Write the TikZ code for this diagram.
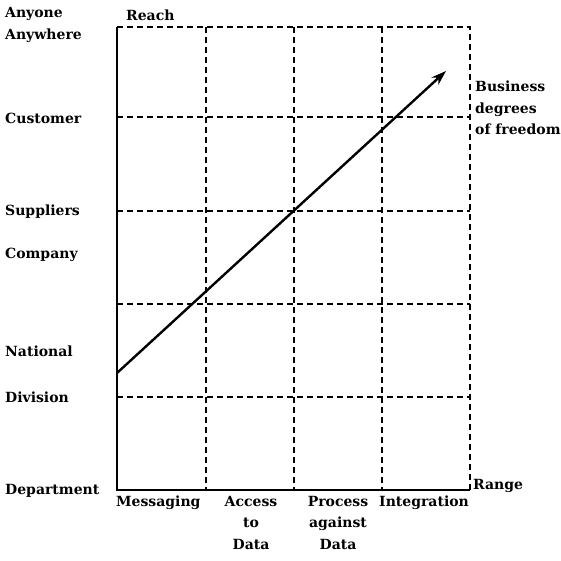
\documentclass[tikz,border=0pt]{standalone}
\usepackage{fontspec}
\setmainfont{DejaVu Serif}
\usetikzlibrary{arrows.meta}
\begin{document}
\begin{tikzpicture}[x=1pt,y=-1pt,
  lbl/.style={font=\bfseries\fontsize{14}{21.5}\selectfont, inner sep=0pt},
  grid/.style={line width=1.5pt, dash pattern=on 6pt off 4pt},
  axis/.style={line width=2pt},
  trend/.style={line width=2.4pt, -{Stealth[length=15pt,width=10pt]}}]
\useasboundingbox (0,0) rectangle (561,561);
% grid coordinates
\coordinate (o) at (117,490);
\coordinate (tl) at (117,27);
\coordinate (tr) at (470,27);
\coordinate (br) at (470,490);
\foreach \n/\x in {a/206,b/294,c/382}{
  \coordinate (v\n t) at (\x,27);
  \coordinate (v\n b) at (\x,490);
}
\foreach \n/\y in {a/117,b/211,c/304,d/397}{
  \coordinate (h\n l) at (117,\y);
  \coordinate (h\n r) at (470,\y);
}
% dashed grid
\draw[grid] (tl) -- (tr) -- (br);
\foreach \n in {a,b,c}{ \draw[grid] (v\n t) -- (v\n b); }
\foreach \n in {a,b,c,d}{ \draw[grid] (h\n l) -- (h\n r); }
% axes
\draw[axis] (tl) -- (o) -- (br);
% trend arrow
\coordinate (s) at (117,373);
\coordinate (e) at (446,71);
\draw[trend] (s) -- (e);
% left labels
\node[lbl, anchor=west, align=left] (any) at (5,25) {Anyone\\Anywhere};
\node[lbl, anchor=west] (cust) at (5,118) {Customer};
\node[lbl, anchor=west] (supp) at (5,212) {Suppliers};
\node[lbl, anchor=west] (comp) at (5,255) {Company};
\node[lbl, anchor=west] (nat) at (5,351) {National};
\node[lbl, anchor=west] (div) at (5,397) {Division};
\node[lbl, anchor=west] (dep) at (5,491) {Department};
\node[lbl, anchor=west] (reach) at (126,15) {Reach};
\node[lbl, anchor=west] (range) at (473,486) {Range};
\node[lbl, anchor=west, align=left] (bdf) at (475,108) {Business\\degrees\\of freedom};
% bottom labels
\node[lbl, anchor=north west] (msg) at (116,496) {Messaging};
\node[lbl, anchor=north, align=center] (acc) at (251,496) {Access\\to\\Data};
\node[lbl, anchor=north, align=center] (proc) at (338,496) {Process\\against\\Data};
\node[lbl, anchor=north west] (integ) at (379,496) {Integration};
\end{tikzpicture}
\end{document}
